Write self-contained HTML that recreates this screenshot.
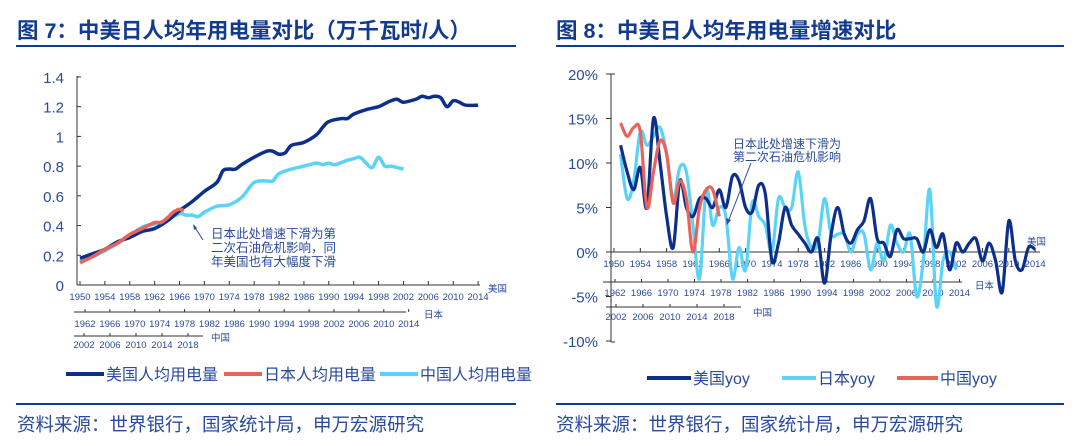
<!DOCTYPE html>
<html><head><meta charset="utf-8"><style>
body{margin:0;width:1080px;height:441px;background:#fff;overflow:hidden;font-family:"Liberation Sans","Noto Sans CJK SC",sans-serif}
svg text{font-family:"Liberation Sans","Noto Sans CJK SC",sans-serif}
</style></head><body>
<svg id="s" width="1080" height="441" viewBox="0 0 1080 441" xmlns="http://www.w3.org/2000/svg">
<g font-weight="bold" fill="#123a8e" font-size="21.5">
<text x="17" y="38">图 7：中美日人均年用电量对比（万千瓦时/人）</text>
<text x="556" y="38">图 8：中美日人均年用电量增速对比</text>
</g>
<line x1="16" y1="46" x2="516" y2="46" stroke="#123a8e" stroke-width="2"/>
<line x1="556" y1="46" x2="1064" y2="46" stroke="#123a8e" stroke-width="2"/>
<line x1="16" y1="404" x2="516" y2="404" stroke="#123a8e" stroke-width="2"/>
<line x1="556" y1="404" x2="1064" y2="404" stroke="#123a8e" stroke-width="2"/>
<g fill="#2a4b9b" font-size="18.5">
<text x="17" y="431">资料来源：世界银行，国家统计局，申万宏源研究</text>
<text x="556" y="431">资料来源：世界银行，国家统计局，申万宏源研究</text>
</g>
<g id="g"></g>
<g fill="#2a4b9b" font-size="16">
<line x1="66" y1="374" x2="104" y2="374" stroke="#0d2f8c" stroke-width="4"/><text x="106" y="380">美国人均用电量</text>
<line x1="224" y1="374" x2="262" y2="374" stroke="#e8645a" stroke-width="4"/><text x="264" y="380">日本人均用电量</text>
<line x1="380" y1="374" x2="418" y2="374" stroke="#5bd3f7" stroke-width="4"/><text x="420" y="380">中国人均用电量</text>
<line x1="647" y1="378" x2="691" y2="378" stroke="#0d2f8c" stroke-width="4"/><text x="693" y="384">美国yoy</text>
<line x1="782" y1="378" x2="816" y2="378" stroke="#5bd3f7" stroke-width="4"/><text x="818" y="384">日本yoy</text>
<line x1="897" y1="378" x2="938" y2="378" stroke="#e8645a" stroke-width="4"/><text x="940" y="384">中国yoy</text>
</g>
</svg>
<script>
const NS="http://www.w3.org/2000/svg",g=document.getElementById('g');
function el(t,a,txt){const e=document.createElementNS(NS,t);for(const k in a)e.setAttribute(k,a[k]);if(txt!=null)e.textContent=txt;g.appendChild(e);return e;}
function smooth(p){let d="M"+p[0][0]+","+p[0][1];for(let i=0;i<p.length-1;i++){const p0=p[i-1]||p[i],p1=p[i],p2=p[i+1],p3=p[i+2]||p2;d+=" C"+(p1[0]+(p2[0]-p0[0])/6)+","+(p1[1]+(p2[1]-p0[1])/6)+" "+(p2[0]-(p3[0]-p1[0])/6)+","+(p2[1]-(p3[1]-p1[1])/6)+" "+p2[0]+","+p2[1];}return d;}
const C="#2a4b9b";
// LEFT
const lx=y=>80+(y-1950)*6.22, ly=v=>285-v*148.6;
el('line',{x1:77,y1:76,x2:77,y2:285,stroke:"#333","stroke-width":1});
el('line',{x1:77,y1:285,x2:480,y2:285,stroke:"#333","stroke-width":1});
for(let i=0;i<=7;i++){const v=i*0.2,y=ly(v);el('line',{x1:77,y1:y,x2:81,y2:y,stroke:"#333"});el('text',{x:64,y:y+6,"text-anchor":"end","font-size":15,fill:C},i==0?"0":i==5?"1":(+v.toFixed(1)).toString());}
for(let yr=1950;yr<=2014;yr+=4){const x=lx(yr);el('line',{x1:x,y1:281,x2:x,y2:285,stroke:"#333"});el('text',{x:x,y:300,"text-anchor":"middle","font-size":9.5,fill:C},yr);}
el('text',{x:488,y:292,"font-size":9.5,fill:C},"美国");
el('line',{x1:74,y1:312,x2:406,y2:312,stroke:"#333"});
for(let i=0;i<14;i++){const yr=1962+4*i,x=85+i*24.9;el('line',{x1:x,y1:309,x2:x,y2:312,stroke:"#333"});el('text',{x:x,y:327,"text-anchor":"middle","font-size":9.5,fill:C},yr);}
el('text',{x:424,y:318,"font-size":9.5,fill:C},"日本");
el('line',{x1:74,y1:336,x2:203,y2:336,stroke:"#333"});
for(let i=0;i<5;i++){const yr=2002+4*i,x=84+i*26;el('line',{x1:x,y1:333,x2:x,y2:336,stroke:"#333"});el('text',{x:x,y:348,"text-anchor":"middle","font-size":9.5,fill:C},yr);}
el('text',{x:211,y:341,"font-size":9.5,fill:C},"中国");
const US=[[1950,.18],[1952,.21],[1954,.24],[1956,.29],[1958,.32],[1960,.36],[1962,.38],[1964,.43],[1966,.5],[1968,.56],[1970,.63],[1972,.69],[1973,.77],[1974,.78],[1975,.78],[1976,.81],[1978,.86],[1980,.9],[1981,.9],[1982,.88],[1983,.89],[1984,.94],[1986,.96],[1988,1.01],[1989,1.06],[1990,1.1],[1992,1.12],[1993,1.12],[1994,1.15],[1996,1.18],[1998,1.2],[1999,1.22],[2000,1.24],[2001,1.25],[2002,1.23],[2004,1.25],[2005,1.27],[2006,1.26],[2007,1.27],[2008,1.26],[2009,1.2],[2010,1.24],[2011,1.23],[2012,1.21],[2014,1.21]];
const JPL=[[1950,.16],[1952,.19],[1954,.23],[1956,.28],[1958,.33],[1960,.39],[1962,.41],[1964,.44],[1966,.48],[1967,.47],[1968,.47],[1969,.46],[1970,.49],[1972,.53],[1974,.54],[1976,.59],[1978,.69],[1980,.7],[1981,.7],[1982,.75],[1984,.78],[1986,.8],[1988,.82],[1989,.81],[1990,.82],[1991,.81],[1993,.84],[1994,.85],[1995,.86],[1996,.82],[1997,.79],[1998,.86],[1999,.8],[2000,.8],[2001,.79],[2002,.78]];
const CNL=[[1950,.15],[1952,.19],[1954,.24],[1956,.28],[1958,.34],[1960,.38],[1962,.42],[1963,.42],[1964,.45],[1965,.49],[1966,.51],[1966.7,.5]];
el('path',{d:smooth(JPL.map(p=>[lx(p[0]),ly(p[1])])),fill:"none",stroke:"#5bd3f7","stroke-width":3.5});
el('path',{d:smooth(US.map(p=>[lx(p[0]),ly(p[1])])),fill:"none",stroke:"#0d2f8c","stroke-width":3.5});
el('path',{d:smooth(CNL.map(p=>[lx(p[0]),ly(p[1])])),fill:"none",stroke:"#e8645a","stroke-width":3.5});
el('line',{x1:203,y1:240,x2:194,y2:226,stroke:"#2a4b9b","stroke-width":1});
el('path',{d:"M193,224 L194,230 L197,228Z",fill:"#2a4b9b"});
["日本此处增速下滑为第","二次石油危机影响，同","年美国也有大幅度下滑"].forEach((t,i)=>el('text',{x:211,y:238+i*14,"font-size":12.5,fill:C},t));
// RIGHT
const rx=y=>614+(y-1950)*6.58, ry=v=>252-v*8.9;
el('line',{x1:611,y1:74,x2:611,y2:342,stroke:"#333"});
el('line',{x1:611,y1:342,x2:615,y2:342,stroke:"#333"});
el('line',{x1:611,y1:74,x2:615,y2:74,stroke:"#333"});
for(let v=-10;v<=20;v+=5){const y=ry(v);el('line',{x1:606,y1:y,x2:611,y2:y,stroke:"#333"});el('text',{x:598,y:y+6,"text-anchor":"end","font-size":15,fill:C},v+"%");}
el('line',{x1:611,y1:252,x2:1040,y2:252,stroke:"#333"});
for(let yr=1950;yr<=2014;yr+=4){const x=rx(yr);el('line',{x1:x,y1:248,x2:x,y2:252,stroke:"#333"});el('text',{x:x,y:267,"text-anchor":"middle","font-size":9.5,fill:C},yr);}
el('text',{x:1027,y:245,"font-size":9.5,fill:C},"美国");
el('line',{x1:603,y1:282,x2:962,y2:282,stroke:"#333"});
for(let i=0;i<14;i++){const yr=1962+4*i,x=615+i*26.5;el('line',{x1:x,y1:279,x2:x,y2:282,stroke:"#333"});el('text',{x:x,y:296,"text-anchor":"middle","font-size":9.5,fill:C},yr);}
el('text',{x:975,y:289,"font-size":9.5,fill:C},"日本");
el('line',{x1:606,y1:307,x2:741,y2:307,stroke:"#333"});
for(let i=0;i<5;i++){const yr=2002+4*i,x=616+i*27;el('line',{x1:x,y1:304,x2:x,y2:307,stroke:"#333"});el('text',{x:x,y:320,"text-anchor":"middle","font-size":9.5,fill:C},yr);}
el('text',{x:753,y:316,"font-size":9.5,fill:C},"中国");
const USY=[12,9,7,9.5,5,15,10,4,0.5,8,5,4,6,6,5,7,5,8.5,8,5,4.5,7.5,6.5,-1,1,5,3,2,1,0,1.5,-3.5,2,5,2,1,2.5,3.5,6,1.5,1,-0.5,2.5,1.5,1.5,1.5,0,2.5,0.5,2,-2,1,0,1,1.5,-1,1,-1,-4.5,3.5,-1,-2,0.5,0.3];
const JPY=[11,6,8,13.5,12,13,14,11,6,9.5,9,3,-3,7,3,5,4,-3,0.5,-2,5.5,4,3,0,6,5,5,9,3,0.5,1,6,2,2,2,0,2,2,-2,1,-1,3,1,0,2,-5,-1,7,-6,-1,0,-2];
const CNY=[14.5,13,14,13.5,5,9,12.5,11,5.5,8,6,0,5,7,7,4];
const P=(a)=>smooth(a.map((v,i)=>[rx(1951+i),ry(v)]));
el('path',{d:P(JPY),fill:"none",stroke:"#5bd3f7","stroke-width":3.2});
el('path',{d:P(USY),fill:"none",stroke:"#0d2f8c","stroke-width":3.2});
el('path',{d:P(CNY),fill:"none",stroke:"#e8645a","stroke-width":3.2});
el('line',{x1:751,y1:163,x2:728,y2:222,stroke:"#2a4b9b","stroke-width":1});
el('path',{d:"M727,225 L726,218 L731,220Z",fill:"#2a4b9b"});
["日本此处增速下滑为","第二次石油危机影响"].forEach((t,i)=>el('text',{x:733,y:148+i*13,"font-size":12,fill:C},t));
</script>
</body></html>
